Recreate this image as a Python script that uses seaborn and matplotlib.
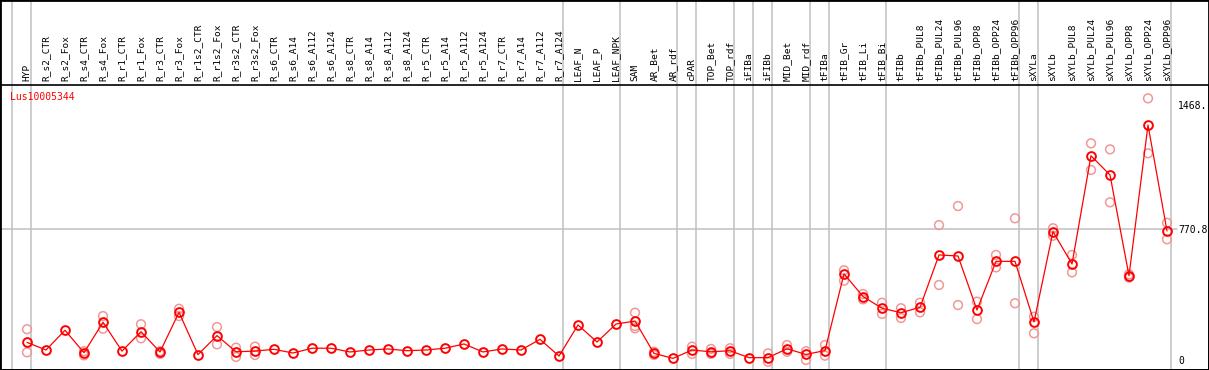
import numpy as np
import pandas as pd
import seaborn as sns
import matplotlib
matplotlib.use("Agg")
import matplotlib.pyplot as plt
from matplotlib.patches import Rectangle

categories = [
    "HYP", "R_s2_CTR", "R_s2_Fox", "R_s4_CTR", "R_s4_Fox", "R_r1_CTR", "R_r1_Fox",
    "R_r3_CTR", "R_r3_Fox", "R_r1s2_CTR", "R_r1s2_Fox", "R_r3s2_CTR", "R_r3s2_Fox",
    "R_s6_CTR", "R_s6_A14", "R_s6_A112", "R_s6_A124", "R_s8_CTR", "R_s8_A14",
    "R_s8_A112", "R_s8_A124", "R_r5_CTR", "R_r5_A14", "R_r5_A112", "R_r5_A124",
    "R_r7_CTR", "R_r7_A14", "R_r7_A112", "R_r7_A124", "LEAF_N", "LEAF_P", "LEAF_NPK",
    "SAM", "AR_Bet", "AR_rdf", "cPAR", "TOP_Bet", "TOP_rdf", "iFIBa", "iFIBb",
    "MID_Bet", "MID_rdf", "tFIBa", "tFIB_Gr", "tFIB_Li", "tFIB_Bi", "tFIBb",
    "tFIBb_PUL8", "tFIBb_PUL24", "tFIBb_PUL96", "tFIBb_OPP8", "tFIBb_OPP24",
    "tFIBb_OPP96", "sXYLa", "sXYLb", "sXYLb_PUL8", "sXYLb_PUL24", "sXYLb_PUL96",
    "sXYLb_OPP8", "sXYLb_OPP24", "sXYLb_OPP96",
]

mean_values = [
    133, 90, 201, 75, 246, 84, 193, 79, 302, 64, 171, 80, 84,
    94, 73, 100, 100, 79, 90, 96, 86, 90, 100, 124, 79,
    96, 90, 150, 56, 231, 135, 236,
    253, 71, 43, 90, 80, 86, 47, 47,
    97, 65, 87, 519, 391, 325, 300,
    330, 625, 619, 315, 589, 589,
    248, 756, 574, 1183, 1075, 508, 1356, 760,
]

nan = np.nan
rep_a = [
    207, nan, nan, 83, 281, nan, 235, 83, 322, nan, 219, 103, 109,
    nan, nan, nan, nan, nan, nan, nan, nan, nan, nan, nan, nan,
    nan, nan, nan, nan, nan, nan, nan,
    300, 80, nan, 109, 96, 100, nan, 71,
    118, 83, 118, 539, 405, 356, 325,
    356, 793, 900, 362, 625, 831,
    277, 775, 625, 1253, 1219, 516, 1506, 806,
]
rep_b = [
    77, nan, nan, 60, 210, nan, 156, 68, 281, nan, 122, 51, 62,
    nan, nan, nan, nan, nan, nan, nan, nan, nan, nan, nan, nan,
    nan, nan, nan, nan, nan, nan, nan,
    212, 62, nan, 68, 68, 68, nan, 24,
    80, 34, 58, 480, 375, 293, 270,
    302, 456, 343, 264, 555, 353,
    184, 733, 527, 1103, 921, 497, 1197, 713,
]
rep_c = [nan] * 32 + [225] + [nan] * 28

group_sizes = [1, 28, 3, 3, 1, 2, 1, 1, 2, 1, 3, 7, 1, 7]

ytick_values = [0, 770.8, 1468]
ytick_labels = ["0", "770.8", "1468."]
gene_id = "Lus10005344"

# ---------------------------------------------------------------
W, H = 1209, 370
fig = plt.figure(figsize=(W / 100, H / 100), dpi=100)
ax = fig.add_axes([0, 0, 1, (H - 85) / H])
sns.set_style("white")

idx = np.arange(len(categories))
df_mean = pd.DataFrame({"x": idx, "y": mean_values})
df_rep = pd.DataFrame({
    "x": np.concatenate([idx, idx, idx]),
    "y": np.concatenate([rep_a, rep_b, rep_c]),
}).dropna()

# separators
seps = [-0.8]
pos = -1
for g in group_sizes:
    pos += g
    seps.append(pos + 0.2)
for s in seps:
    ax.axvline(s, ymin=-0.02, ymax=H / (H - 85) + 0.02, color="#c0c0c0",
               lw=1.1, clip_on=False, zorder=0)
ax.axhline(770.8, xmin=0, xmax=1177 / W, color="#c0c0c0", lw=1.1, zorder=0)

# replicates
sns.scatterplot(data=df_rep, x="x", y="y", ax=ax, marker="o", s=40,
                facecolor="none", edgecolor="#f09898", linewidth=1.1,
                zorder=2, legend=False)
# mean line
sns.lineplot(data=df_mean, x="x", y="y", ax=ax, color="red", lw=0.9,
             marker="o", markersize=6.3, markerfacecolor="none",
             markeredgecolor="red", markeredgewidth=1.4, zorder=3)

ax.set_xlim((0 - 27) / 19, (W - 27) / 19)
ax.set_ylim((366 - 370) * 5.627, (366 - 85) * 5.627)

mono = "DejaVu Sans Mono"
ax.set_xticks(idx)
ax.set_xticklabels(categories, rotation=90, fontfamily=mono, fontsize=6.8)
ax.tick_params(axis="x", top=True, bottom=False, labeltop=True,
               labelbottom=False, length=0, pad=3)
ax.set_yticks(ytick_values)
ax.set_yticklabels(ytick_labels, fontfamily=mono, fontsize=7)
ax.tick_params(axis="y", left=False, right=False, labelleft=False,
               labelright=True, length=0, pad=-22.3)
for lab in ax.get_yticklabels():
    lab.set_horizontalalignment("left")
    if lab.get_text() == "0":
        lab.set_verticalalignment("bottom")
ax.set_xlabel("")
ax.set_ylabel("")
for sp in ax.spines.values():
    sp.set_color("black")
    sp.set_linewidth(1.2)

fig.text(10 / W, 1 - 97 / H, gene_id, color="red", fontfamily=mono,
         fontsize=7, ha="left", va="center")
fig.patches.append(Rectangle((0, 0), 1, 1, transform=fig.transFigure,
                             fill=False, edgecolor="black", linewidth=2.0))

fig.savefig("out.png", dpi=100)
